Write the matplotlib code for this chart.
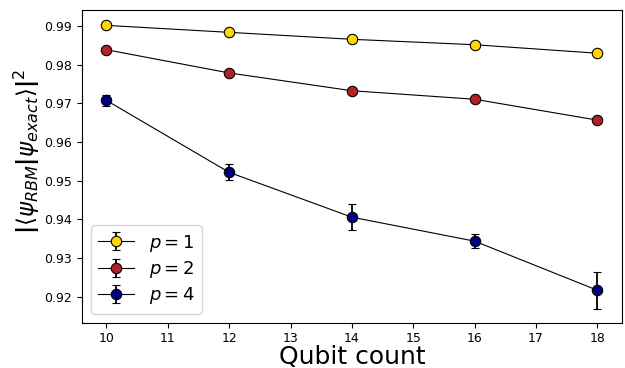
import matplotlib
matplotlib.use("Agg")
import matplotlib.pyplot as plt

qubits = [10, 12, 14, 16, 18]
p1 = [0.9902, 0.9884, 0.9866, 0.9852, 0.9830]
p1_err = [0.0002, 0.0002, 0.0002, 0.0002, 0.0002]
p2 = [0.9839, 0.9779, 0.9733, 0.9711, 0.9657]
p2_err = [0.0003, 0.0004, 0.0005, 0.0005, 0.0008]
p4 = [0.9708, 0.9522, 0.9406, 0.9344, 0.9217]
p4_err = [0.0014, 0.0021, 0.0034, 0.0019, 0.0048]
labels = [r'$p=1$', r'$p=2$', r'$p=4$']
colors = ['gold', 'firebrick', 'navy']

fig = plt.figure(figsize=(6.25, 3.68), dpi=100)
ax = fig.add_axes([0.131, 0.123, 0.864, 0.849])
for y, e, lab, c in zip([p1, p2, p4], [p1_err, p2_err, p4_err], labels, colors):
    ax.errorbar(qubits, y, yerr=e, color='black', lw=0.8, marker='o', ms=7.5,
                mfc=c, mec='black', mew=0.8, capsize=3, elinewidth=1.3,
                ecolor='black', label=lab)
ax.set_xlim(9.6, 18.4)
ax.set_ylim(0.9133, 0.9941)
ax.set_xticks(range(10, 19))
ax.tick_params(labelsize=9)
ax.set_xlabel('Qubit count', fontsize=18, labelpad=0)
ax.set_ylabel(r'$\mathbf{|}\langle\psi_{RBM}\mathbf{|}\psi_{exact}\rangle\mathbf{|}^2$',
              fontsize=16.5)
ax.yaxis.set_label_coords(-0.073, 0.55)
ax.legend(loc='lower left', fontsize=13, handlelength=2.0, labelspacing=0.3)
fig.savefig('out.png', dpi=100)
